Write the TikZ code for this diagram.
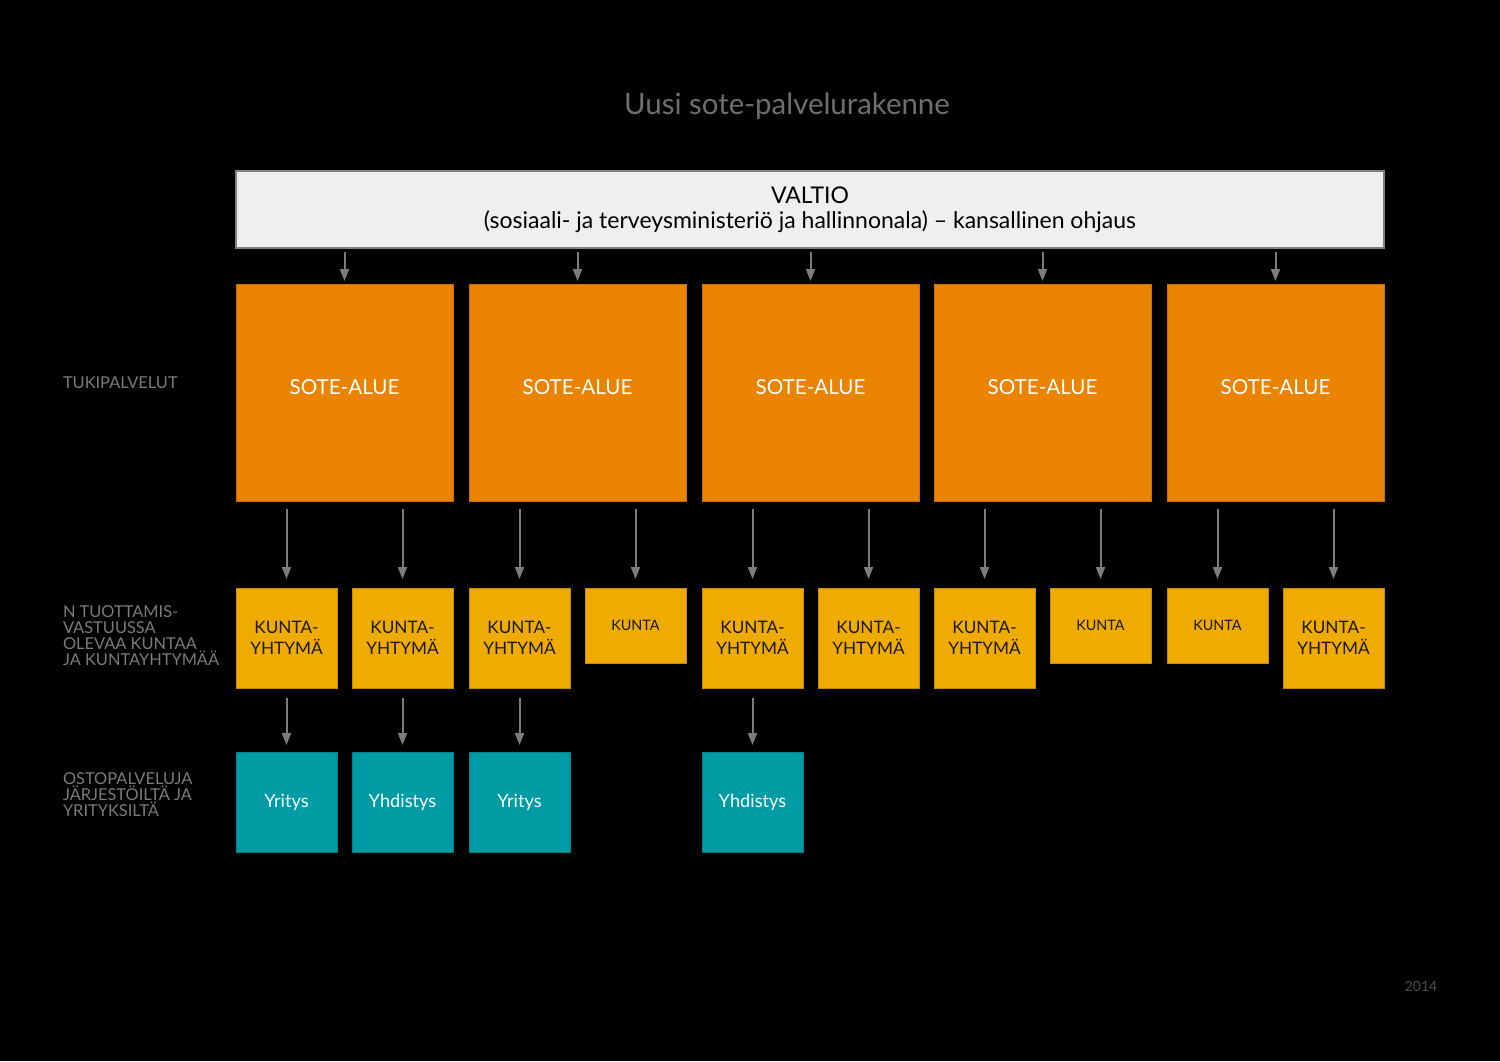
\documentclass[tikz,border=0pt]{standalone}
\usepackage{fontspec}
\setmainfont{Lato}
\usetikzlibrary{arrows.meta}
\definecolor{orng}{HTML}{E98300}
\definecolor{orngB}{HTML}{C86F00}
\definecolor{yel}{HTML}{F0AB00}
\definecolor{yelB}{HTML}{C48A00}
\definecolor{teal}{HTML}{009CA6}
\definecolor{tealB}{HTML}{007F88}
\definecolor{lblgray}{HTML}{7A7A7A}
\definecolor{titlegray}{HTML}{6E6E6E}
\definecolor{arrgray}{HTML}{7C7C7C}
\definecolor{valfill}{HTML}{EFEFEF}
\definecolor{valborder}{HTML}{808080}
\begin{document}
\begin{tikzpicture}[x=0.5pt,y=-0.5pt,
  every node/.style={inner sep=0pt,outer sep=0pt},
  sotebox/.style={draw=orngB,line width=0.5pt,fill=orng,minimum width=108.5pt,minimum height=108.5pt,text=white,font=\fontsize{10.3}{12}\selectfont},
  kybox/.style={draw=yelB,line width=0.5pt,fill=yel,minimum width=50.5pt,minimum height=50pt,text=black!90,align=center,font=\fontsize{8.6}{10.5}\selectfont},
  kbox/.style={draw=yelB,line width=0.5pt,fill=yel,minimum width=50.5pt,minimum height=37.5pt,text=black!90,font=\fontsize{7.2}{8}\selectfont},
  tbox/.style={draw=tealB,line width=0.5pt,fill=teal,minimum width=50.5pt,minimum height=50pt,text=white,font=\fontsize{9.1}{11}\selectfont},
  lbl/.style={anchor=west,align=left,text=lblgray,font=\fontsize{8.2}{8}\selectfont},
  arr/.style={draw=arrgray,line width=1pt,-{Triangle[length=6pt,width=4.5pt]}}
]
\useasboundingbox (0,0) rectangle (1500,1061);
\fill[black] (0,0) rectangle (1500,1061);

\node[text=titlegray,font=\fontsize{14.7}{16}\selectfont] (title) at (787,106) {Uusi sote-palvelurakenne};

\node[draw=valborder,line width=0.6pt,fill=valfill,minimum width=574pt,minimum height=38.5pt,align=center,font=\fontsize{11.5}{12.5}\selectfont] (v) at (810,209.5) {\raisebox{-5pt}{VALTIO}\\\raisebox{-5pt}{(sosiaali- ja terveysministeriö ja hallinnonala) – kansallinen ohjaus}};

\node[sotebox] (s1) at (344.5,392.5) {\raisebox{5pt}{SOTE-ALUE}};
\node[sotebox] (s2) at (577.5,392.5) {\raisebox{5pt}{SOTE-ALUE}};
\node[sotebox] (s3) at (810.5,392.5) {\raisebox{5pt}{SOTE-ALUE}};
\node[sotebox] (s4) at (1042.5,392.5) {\raisebox{5pt}{SOTE-ALUE}};
\node[sotebox] (s5) at (1275.5,392.5) {\raisebox{5pt}{SOTE-ALUE}};

\node[kybox] (k1) at (286.5,638) {\raisebox{-3pt}{KUNTA-}\\\raisebox{-3pt}{YHTYMÄ}};
\node[kybox] (k2) at (402.5,638) {\raisebox{-3pt}{KUNTA-}\\\raisebox{-3pt}{YHTYMÄ}};
\node[kybox] (k3) at (519.5,638) {\raisebox{-3pt}{KUNTA-}\\\raisebox{-3pt}{YHTYMÄ}};
\node[kbox] (k4) at (635.5,625.5) {KUNTA};
\node[kybox] (k5) at (752.5,638) {\raisebox{-3pt}{KUNTA-}\\\raisebox{-3pt}{YHTYMÄ}};
\node[kybox] (k6) at (868.5,638) {\raisebox{-3pt}{KUNTA-}\\\raisebox{-3pt}{YHTYMÄ}};
\node[kybox] (k7) at (984.5,638) {\raisebox{-3pt}{KUNTA-}\\\raisebox{-3pt}{YHTYMÄ}};
\node[kbox] (k8) at (1100.5,625.5) {KUNTA};
\node[kbox] (k9) at (1217.5,625.5) {KUNTA};
\node[kybox] (k10) at (1333.5,638) {\raisebox{-3pt}{KUNTA-}\\\raisebox{-3pt}{YHTYMÄ}};

\node[tbox] (t1) at (286.5,802) {Yritys};
\node[tbox] (t2) at (402.5,802) {Yhdistys};
\node[tbox] (t3) at (519.5,802) {Yritys};
\node[tbox] (t5) at (752.5,802) {Yhdistys};

\node[lbl] (l1) at (63,383) {TUKIPALVELUT};
\node[lbl] (l2) at (63,636) {N TUOTTAMIS-\\VASTUUSSA\\OLEVAA KUNTAA\\JA KUNTAYHTYMÄÄ};
\node[lbl] (l3) at (63,795) {OSTOPALVELUJA\\JÄRJESTÖILTÄ JA\\YRITYKSILTÄ};

\node[text=black!70,font=\fontsize{7}{8}\selectfont] (yr) at (1421,986) {2014};

\foreach \s in {s1,s2,s3,s4,s5}
  \draw[arr] ([yshift=-2pt]v.south -| \s.north) -- ([yshift=1.5pt]\s.north);

\foreach \s/\k in {s1/k1,s1/k2,s2/k3,s2/k4,s3/k5,s3/k6,s4/k7,s4/k8,s5/k9,s5/k10}
  \draw[arr] ([yshift=-4pt]\s.south -| \k.north) -- ([yshift=4.5pt]\k.north);

\foreach \k/\t in {k1/t1,k2/t2,k3/t3,k5/t5}
  \draw[arr] ([yshift=-5pt]\k.south) -- ([yshift=3.5pt]\t.north);
\end{tikzpicture}
\end{document}
